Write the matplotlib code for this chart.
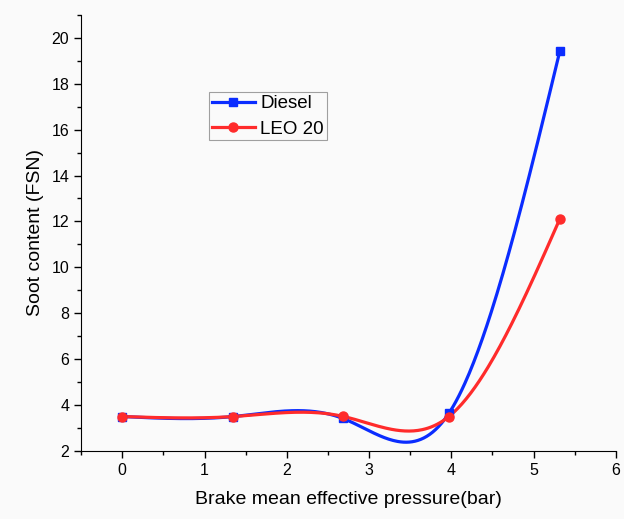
import numpy as np
import matplotlib
matplotlib.use("Agg")
import matplotlib.pyplot as plt
from matplotlib.ticker import MultipleLocator

plt.rcParams['font.family'] = ['Liberation Sans', 'DejaVu Sans']

bmep = [0.0, 1.35, 2.68, 3.97, 5.32]
diesel = [3.49, 3.49, 3.41, 3.63, 19.45]
leo20 = [3.49, 3.49, 3.5, 3.49, 12.12]


def natural_spline(x, y, n=300):
    x = np.asarray(x, float); y = np.asarray(y, float)
    k = len(x)
    h = np.diff(x)
    A = np.zeros((k, k)); b = np.zeros(k)
    A[0, 0] = 1; A[-1, -1] = 1
    for i in range(1, k - 1):
        A[i, i - 1] = h[i - 1]
        A[i, i] = 2 * (h[i - 1] + h[i])
        A[i, i + 1] = h[i]
        b[i] = 6 * ((y[i + 1] - y[i]) / h[i] - (y[i] - y[i - 1]) / h[i - 1])
    M = np.linalg.solve(A, b)
    xs = np.linspace(x[0], x[-1], n)
    ys = np.empty_like(xs)
    for j, xv in enumerate(xs):
        i = min(np.searchsorted(x, xv, side='right') - 1, k - 2)
        t1 = x[i + 1] - xv; t0 = xv - x[i]
        ys[j] = (M[i] * t1**3 / (6 * h[i]) + M[i + 1] * t0**3 / (6 * h[i])
                 + (y[i] / h[i] - M[i] * h[i] / 6) * t1
                 + (y[i + 1] / h[i] - M[i + 1] * h[i] / 6) * t0)
    return xs, ys


fig = plt.figure(figsize=(6.24, 5.19), dpi=100, facecolor='#fafafa')
ax = fig.add_axes([0.13, 0.1316, 0.857, 0.8394])
ax.set_facecolor('#fafafa')

blue = '#0a2cff'
red = '#ff2b2b'

for ys, col, mk, ms, lab in [(diesel, blue, 's', 6.0, 'Diesel'), (leo20, red, 'o', 6.5, 'LEO 20')]:
    sx, sy = natural_spline(bmep, ys)
    ax.plot(sx, sy, color=col, lw=2.3, zorder=2)
    ax.plot(bmep, ys, linestyle='none', marker=mk, color=col, ms=ms, zorder=3)
    ax.plot([], [], color=col, lw=2.3, marker=mk, ms=ms, label=lab)

ax.set_xlim(-0.5, 6)
ax.set_ylim(2, 21)
ax.xaxis.set_major_locator(MultipleLocator(1))
ax.xaxis.set_minor_locator(MultipleLocator(0.5))
ax.yaxis.set_major_locator(MultipleLocator(2))
ax.yaxis.set_minor_locator(MultipleLocator(1))
ax.set_xticks(np.arange(0, 7, 1))
ax.spines['top'].set_visible(False)
ax.spines['right'].set_visible(False)
ax.tick_params(direction='out', length=5, width=1, labelsize=11.5)
ax.tick_params(which='minor', direction='out', length=3, width=1)

ax.set_xlabel('Brake mean effective pressure(bar)', fontsize=14, labelpad=10)
ax.set_ylabel('Soot content (FSN)', fontsize=14, labelpad=5)

leg = ax.legend(loc='upper left', bbox_to_anchor=(0.239, 0.823), fontsize=13.5,
                frameon=True, fancybox=False, handlelength=2.3, borderpad=0.15,
                labelspacing=0.45, handletextpad=0.3, borderaxespad=0)
leg.get_frame().set_edgecolor('#888888')
leg.get_frame().set_linewidth(0.8)
leg.get_frame().set_facecolor('#fafafa')

fig.savefig('out.png', dpi=100, facecolor=fig.get_facecolor())
